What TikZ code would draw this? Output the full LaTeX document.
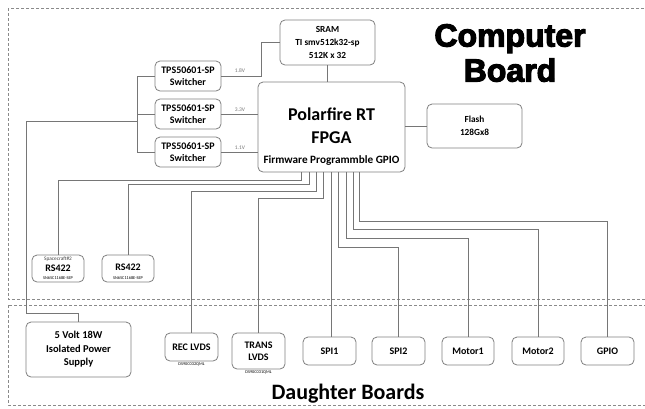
\documentclass[tikz,border=0pt]{standalone}
\usepackage{fontspec}
\setmainfont{Carlito}
\newfontfamily\heavy{Liberation Sans}[BoldFeatures={FakeBold=3.5}]
\usetikzlibrary{calc}
\definecolor{boxc}{HTML}{808080}
\definecolor{linec}{HTML}{767676}
\definecolor{bordc}{HTML}{8A8A8A}
\begin{document}
\begin{tikzpicture}[x=1pt,y=-1pt,
  blk/.style={draw=boxc, line width=0.8pt, rounded corners=5pt, align=center, inner sep=0pt,
              font=\bfseries\fontsize{10}{12.5}\selectfont},
  rblk/.style={blk, font=\bfseries\fontsize{9.3}{13}\selectfont},
  wire/.style={draw=linec, line width=0.8pt},
  volt/.style={font=\fontsize{5.5}{6}\selectfont, text=linec, inner sep=0pt},
  tinytext/.style={font=\fontsize{4.3}{5}\selectfont, inner sep=0pt},
  border/.style={draw=bordc, dash pattern=on 3pt off 2pt, line width=0.6pt}]
\useasboundingbox (0,0) rectangle (645,408);
\clip (0,0) rectangle (645,408);
\fill[white] (0,0) rectangle (645,408);

% board borders
\draw[border] (8,8) rectangle (680,299);
\draw[border] (8,305) rectangle (680,405);

% titles
\node[font=\heavy\bfseries\fontsize{32}{35}\selectfont, align=center] (cbtitle) at (510,53) {Computer\\Board};
\node[font=\bfseries\fontsize{22}{24}\selectfont] (dbtitle) at (348,394) {Daughter Boards};

% computer board blocks
\node[rblk, minimum width=95, minimum height=45] (sram) at (327.5,42.5) {SRAM\\TI smv512k32-sp\\512K x 32};
\node[blk, minimum width=147, minimum height=90] (fpga) at (331.5,127) {};
\node[font=\bfseries\fontsize{18}{23}\selectfont, align=center] (fpgatxt) at (331.5,126) {Polarfire RT\\FPGA};
\node[font=\bfseries\fontsize{11.2}{12}\selectfont] (gpiotxt) at (331.5,161) {Firmware Programmble GPIO};
\node[rblk, minimum width=95, minimum height=44] (flash) at (474.5,126) {Flash\\128Gx8};

\node[blk, minimum width=66, minimum height=30] (sw1) at (188,76) {TPS50601-SP\\Switcher};
\node[blk, minimum width=66, minimum height=30] (sw2) at (188,114) {TPS50601-SP\\Switcher};
\node[blk, minimum width=66, minimum height=30] (sw3) at (188,152) {TPS50601-SP\\Switcher};

\node[blk, minimum width=52, minimum height=27] (rsa) at (58,268.5) {};
\node[font=\bfseries\fontsize{10}{12}\selectfont] (rsatxt) at (58,268.5) {RS422};
\node[font=\fontsize{5.3}{6}\selectfont, text=black!75, inner sep=0pt] (rsatop) at (58,259) {Spacecraft\#2};
\node[tinytext] (rsabot) at (58,278) {SN65C1168E-SEP};
\node[blk, minimum width=52, minimum height=27] (rsb) at (128,268.5) {};
\node[font=\bfseries\fontsize{10}{12}\selectfont] (rsbtxt) at (128,267.5) {RS422};
\node[tinytext] (rsbbot) at (128,278) {SN65C1168E-SEP};

% daughter board blocks
\node[blk, font=\bfseries\fontsize{10.5}{13.5}\selectfont, minimum width=105, minimum height=55] (psu) at (78.5,349.5) {5 Volt 18W\\Isolated Power\\Supply};
\node[blk, minimum width=53, minimum height=28] (rec) at (191.5,347) {REC LVDS};
\node[tinytext, anchor=north] (recpn) at ($(rec.south)+(0,1.5)$) {DS90C032QML};
\node[blk, minimum width=53, minimum height=36] (trans) at (258.5,351) {TRANS\\LVDS};
\node[tinytext, anchor=north] (transpn) at ($(trans.south)+(0,1.5)$) {DS90C031QML};
\node[blk, minimum width=53, minimum height=28] (spi1) at (329.5,351) {SPI1};
\node[blk, minimum width=53, minimum height=28] (spi2) at (398.5,351) {SPI2};
\node[blk, minimum width=52, minimum height=28] (mot1) at (468,351) {Motor1};
\node[blk, minimum width=52, minimum height=28] (mot2) at (538,351) {Motor2};
\node[blk, minimum width=53, minimum height=28] (gpio) at (607.5,351) {GPIO};

% power connections
\draw[wire] (sw1.west) -- ++(-17,0) |- (sw3.west);
\draw[wire] (sw2.west) -- ++(-17,0);
\coordinate (busj) at (138,121);
\draw[wire] (busj) -- (26,121) -- (26,313) -| (psu.north);
\draw[wire] (sw1.east) -- ++(40,0) |- (sram.west);
\node[volt] (v18) at (240,71) {1.8V};
\draw[wire] (sw2.east) -- (sw2.east -| fpga.west);
\node[volt] (v33) at (240,109.5) {3.3V};
\draw[wire] (sw3.east) -- (sw3.east -| fpga.west);
\node[volt] (v11) at (240,147.5) {1.1V};

% memory connections
\draw[wire] (sram.south) -- (sram.south |- fpga.north);
\draw[wire] (fpga.east |- flash.west) -- (flash.west);

% FPGA GPIO ports
\coordinate (p1) at ($(fpga.south west)+(44,0)$);
\coordinate (p2) at ($(fpga.south west)+(52,0)$);
\coordinate (p3) at ($(fpga.south west)+(59,0)$);
\coordinate (p4) at ($(fpga.south west)+(66,0)$);
\coordinate (p5) at ($(fpga.south west)+(74,0)$);
\coordinate (p6) at ($(fpga.south west)+(81,0)$);
\coordinate (p7) at ($(fpga.south west)+(89,0)$);
\coordinate (p8) at ($(fpga.south west)+(96,0)$);
\coordinate (p9) at ($(fpga.south west)+(102,0)$);

\draw[wire] (p1) -- ++(0,8) -| (rsa.north);
\draw[wire] (p2) -- ++(0,12) -| (rsb.north);
\draw[wire] (p3) -- ++(0,19) -| (rec.north);
\draw[wire] (p4) -- ++(0,26) -| (trans.north);
\draw[wire] (p5) -- (p5 |- spi1.north);
\draw[wire] (p6) -- ++(0,75) -| (spi2.north);
\draw[wire] (p7) -- ++(0,66) -| (mot1.north);
\draw[wire] (p8) -- ++(0,57) -| (mot2.north);
\draw[wire] (p9) -- ++(0,49) -| (gpio.north);
\end{tikzpicture}
\end{document}
